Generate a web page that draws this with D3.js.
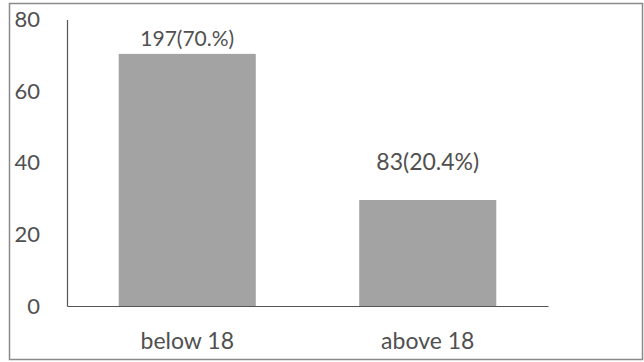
<!DOCTYPE html>
<html>
<head>
<meta charset="utf-8">
<script src="https://cdn.jsdelivr.net/npm/d3@7"></script>
<style>
  html, body { margin: 0; padding: 0; background: #fff; }
  svg { display: block; }
  text { font-family: Lato, "Open Sans", sans-serif; fill: #505050; }
</style>
</head>
<body>
<svg id="chart" width="644" height="362"></svg>
<script>
const categories = ["below 18", "above 18"];
const values = [70.4, 29.6];
const barLabels = ["197(70.%)", "83(20.4%)"];
const yTicks = [0, 20, 40, 60, 80];

const svg = d3.select("#chart");

// outer frame
svg.append("rect")
  .attr("x", 9.5).attr("y", 3.5)
  .attr("width", 633).attr("height", 356)
  .attr("fill", "none").attr("stroke", "#8a8a8a").attr("stroke-width", 1.5);

const plot = { left: 67, right: 548, top: 19.5, bottom: 306 };

const x = d3.scaleBand().domain(categories)
  .range([plot.left, plot.right]).paddingInner(0.43).paddingOuter(0.215);
const y = d3.scaleLinear().domain([0, 80]).range([plot.bottom, plot.top]);

// bars
svg.selectAll("rect.bar").data(values).join("rect")
  .attr("class", "bar")
  .attr("x", (d, i) => x(categories[i]))
  .attr("y", d => y(d))
  .attr("width", x.bandwidth())
  .attr("height", d => y(0) - y(d))
  .attr("fill", "#a3a3a3");

// y axis
const yAxis = d3.axisLeft(y).tickValues(yTicks).tickSize(0).tickPadding(27);
const gy = svg.append("g").attr("transform", `translate(${plot.left},0)`).call(yAxis);
gy.select(".domain").attr("stroke", "#555").attr("stroke-width", 1.2);
gy.selectAll("text").style("font-size", "22px").attr("fill", "#505050")
  .style("font-family", "Lato, 'Open Sans', sans-serif");

// x axis
const xAxis = d3.axisBottom(x).tickSize(0).tickPadding(27);
const gx = svg.append("g").attr("transform", `translate(0,${plot.bottom})`).call(xAxis);
gx.select(".domain").attr("stroke", "#555").attr("stroke-width", 1.2);
gx.selectAll("text").style("font-size", "23px").attr("fill", "#505050")
  .style("font-family", "Lato, 'Open Sans', sans-serif");

// bar labels
const lblSize = ["21px", "23px"];
const lblGap = [15, 38];
svg.selectAll("text.lbl").data(values).join("text")
  .attr("class", "lbl")
  .attr("x", (d, i) => x(categories[i]) + x.bandwidth() / 2)
  .attr("y", (d, i) => y(d) - lblGap[i])
  .attr("dy", "0.35em")
  .attr("text-anchor", "middle")
  .style("font-size", (d, i) => lblSize[i])
  .text((d, i) => barLabels[i]);
</script>
</body>
</html>
